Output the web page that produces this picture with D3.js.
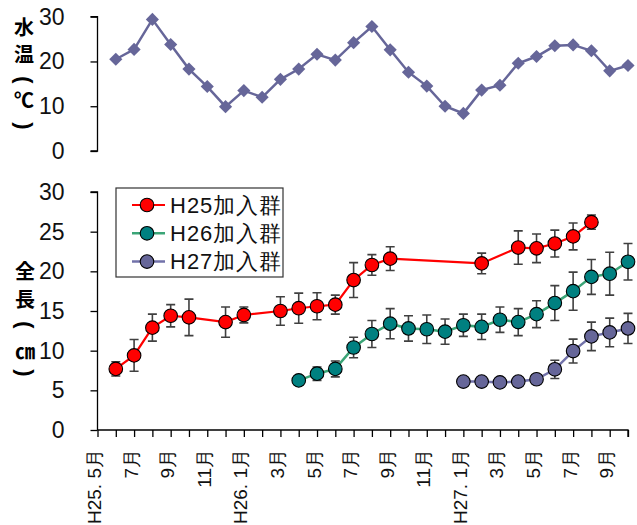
<!DOCTYPE html>
<html><head><meta charset="utf-8">
<script src="https://cdn.jsdelivr.net/npm/d3@7"></script>
<style>
body{margin:0;background:#fff;}
svg{display:block;}
</style></head>
<body><svg id="c" width="637" height="525"></svg>
<script>
// months index 0 = H25.5月 ... 29 = H27.10月
const monthLabels = ["H25. 5月","","7月","","9月","","11月","","H26. 1月","","3月","","5月","","7月","","9月","","11月","","H27. 1月","","3月","","5月","","7月","","9月",""];
const tempValues = [null,20.5,22.7,29.4,23.8,18.3,14.4,9.9,13.5,12.0,16.0,18.3,21.6,20.3,24.2,27.8,22.6,17.6,14.5,10.0,8.4,13.6,14.7,19.6,21.1,23.5,23.7,22.4,17.9,19.1];
const h25Mean = [null,7.7,9.4,12.9,14.4,14.2,null,13.6,14.5,null,15.0,15.35,15.6,15.8,18.9,20.8,21.6,null,null,null,null,21.0,null,23.0,22.9,23.5,24.4,26.2,null,null];
const h25Sd   = [null,0.9,2.0,1.7,1.4,2.3,null,1.9,1.0,null,1.8,1.9,1.7,1.2,2.2,1.3,1.5,null,null,null,null,1.3,null,2.1,1.8,1.7,1.7,0.9,null,null];
const h26Mean = [null,null,null,null,null,null,null,null,null,null,null,6.25,7.1,7.7,10.4,12.1,13.4,12.8,12.7,12.4,13.2,13.0,13.9,13.6,14.6,16.0,17.5,19.3,19.7,21.2];
const h26Sd   = [null,null,null,null,null,null,null,null,null,null,null,0.3,0.85,1.0,1.3,1.7,1.9,1.6,1.8,1.6,1.4,1.6,1.6,1.7,1.7,2.2,2.4,2.2,2.7,2.3];
const h27Mean = [null,null,null,null,null,null,null,null,null,null,null,null,null,null,null,null,null,null,null,null,6.1,6.1,6.0,6.1,6.4,7.65,9.95,11.8,12.3,12.8];
const h27Sd   = [null,null,null,null,null,null,null,null,null,null,null,null,null,null,null,null,null,null,null,null,0.3,0.3,0.3,0.3,0.5,1.15,1.5,1.8,1.8,1.9];
const seriesNames = ["H25加入群","H26加入群","H27加入群"];
const tempTicks = [0,10,20,30];
const lenTicks = [0,5,10,15,20,25,30];

const svg = d3.select("#c");
const x = d3.scalePoint().domain(d3.range(monthLabels.length)).range([97.5, 628]);
const yT = d3.scaleLinear().domain([0,30]).range([151,16.7]);
const yL = d3.scaleLinear().domain([0,30]).range([430,192]);

const numFont = '"Liberation Sans Narrow","Arial Narrow",sans-serif';

// --- top panel axis
const gT = svg.append("g").attr("transform","translate(97.5,0)");
gT.call(d3.axisLeft(yT).tickValues(tempTicks).tickSize(7).tickPadding(26).tickFormat(d3.format("d")));
gT.select(".domain").attr("stroke","#000").attr("stroke-width",1.3).attr("d",`M-7,${yT(30)}H0V${yT(0)}H-7`);
gT.selectAll(".tick line").attr("stroke","#000").attr("stroke-width",1.3);
gT.selectAll(".tick text").attr("font-family",numFont).attr("font-size",23).attr("fill","#111");

// --- bottom panel axes
const gL = svg.append("g").attr("transform","translate(97.5,0)");
gL.call(d3.axisLeft(yL).tickValues(lenTicks).tickSize(7).tickPadding(26).tickFormat(d3.format("d")));
gL.select(".domain").attr("stroke","#000").attr("stroke-width",1.3).attr("d",`M-7,${yL(30)}H0V${yL(0)}`);
gL.selectAll(".tick line").attr("stroke","#000").attr("stroke-width",1.3);
gL.selectAll(".tick text").attr("font-family",numFont).attr("font-size",23).attr("fill","#111");

const gX = svg.append("g").attr("transform",`translate(0,${yL(0)})`);
gX.call(d3.axisBottom(x).tickSize(7).tickFormat(""));
gX.select(".domain").attr("stroke","#000").attr("stroke-width",1.3).attr("d",`M97.5,0H628V7`);
gX.selectAll(".tick line").attr("stroke","#000").attr("stroke-width",1.3);
gX.selectAll(".xl").data(monthLabels.map((l,i)=>({l,i})).filter(d=>d.l)).enter()
  .append("text").attr("class","xl")
  .attr("transform",d=>`translate(${x(d.i)-3},19) rotate(-90)`)
  .attr("text-anchor","end").attr("dominant-baseline","central")
  .attr("font-family",numFont).attr("font-size",19).attr("fill","#111")
  .text(d=>d.l);

// --- y titles (vertical)
function vtitle(chars, xc, ys){
  const g = svg.append("g");
  chars.forEach((c,i)=>{
    const isParen = (c==="(" || c===")");
    g.append("text")
      .attr("transform",`translate(${xc},${ys[i]})` + (isParen ? " rotate(90)" : ""))
      .attr("text-anchor","middle").attr("dominant-baseline","central")
      .attr("font-family", isParen ? '"Liberation Sans",sans-serif' : '"Noto Sans CJK JP",sans-serif')
      .attr("font-weight","bold")
      .attr("font-size", isParen ? 22 : 20).attr("fill","#000")
      .text(c);
  });
}
vtitle(["水","温","(","℃",")"],24,[26,53,80,99,126]);
vtitle(["全","長","(","㎝",")"],25,[270,298,325,350,373]);

// --- temperature line
const tData = tempValues.map((v,i)=>({i,v})).filter(d=>d.v!=null);
const tc = "#666699";
svg.append("path").datum(tData).attr("fill","none").attr("stroke",tc).attr("stroke-width",2.5)
  .attr("d",d3.line().x(d=>x(d.i)).y(d=>yT(d.v)));
svg.append("g").selectAll("path").data(tData).enter().append("path")
  .attr("d",d3.symbol().type(d3.symbolDiamond2).size(110))
  .attr("transform",d=>`translate(${x(d.i)},${yT(d.v)})`).attr("fill",tc);

// --- length series
const series = [
  {name:seriesNames[0],mean:h25Mean,sd:h25Sd,line:"#ff0000",fill:"#ff0000",lw:2.2},
  {name:seriesNames[1],mean:h26Mean,sd:h26Sd,line:"#3ba577",fill:"#008080",lw:2.5},
  {name:seriesNames[2],mean:h27Mean,sd:h27Sd,line:"#7272aa",fill:"#666699",lw:2.5}
];
series.forEach(s=>{
  const data = s.mean.map((v,i)=>({i,v,sd:s.sd[i]})).filter(d=>d.v!=null);
  svg.append("path").datum(data).attr("fill","none").attr("stroke",s.line).attr("stroke-width",s.lw)
    .attr("d",d3.line().x(d=>x(d.i)).y(d=>yL(d.v)));
  const eb = svg.append("g").attr("stroke","#404040").attr("stroke-width",1.6).attr("fill","none");
  eb.selectAll("path").data(data).enter().append("path")
    .attr("d",d=>{const xx=x(d.i),a=yL(d.v+d.sd),b=yL(d.v-d.sd);return `M${xx},${a}V${b}M${xx-4.5},${a}H${xx+4.5}M${xx-4.5},${b}H${xx+4.5}`;});
  svg.append("g").selectAll("circle").data(data).enter().append("circle")
    .attr("cx",d=>x(d.i)).attr("cy",d=>yL(d.v)).attr("r",6.8)
    .attr("fill",s.fill).attr("stroke","#000").attr("stroke-width",1.1);
});

// --- legend
const lg = svg.append("g");
lg.append("rect").attr("x",116).attr("y",188).attr("width",167).attr("height",89)
  .attr("fill","#fff").attr("stroke","#333").attr("stroke-width",1.2);
series.forEach((s,k)=>{
  const yy = 205 + k*28.3;
  lg.append("line").attr("x1",132).attr("x2",165).attr("y1",yy).attr("y2",yy).attr("stroke",s.line).attr("stroke-width",s.lw);
  lg.append("circle").attr("cx",147).attr("cy",yy).attr("r",6.8).attr("fill",s.fill).attr("stroke","#000").attr("stroke-width",1.1);
  lg.append("text").attr("x",170).attr("y",yy).attr("dominant-baseline","central")
    .attr("font-family",numFont).attr("font-size",22).attr("letter-spacing",1).attr("fill","#111").text(s.name);
});
</script></body></html>
